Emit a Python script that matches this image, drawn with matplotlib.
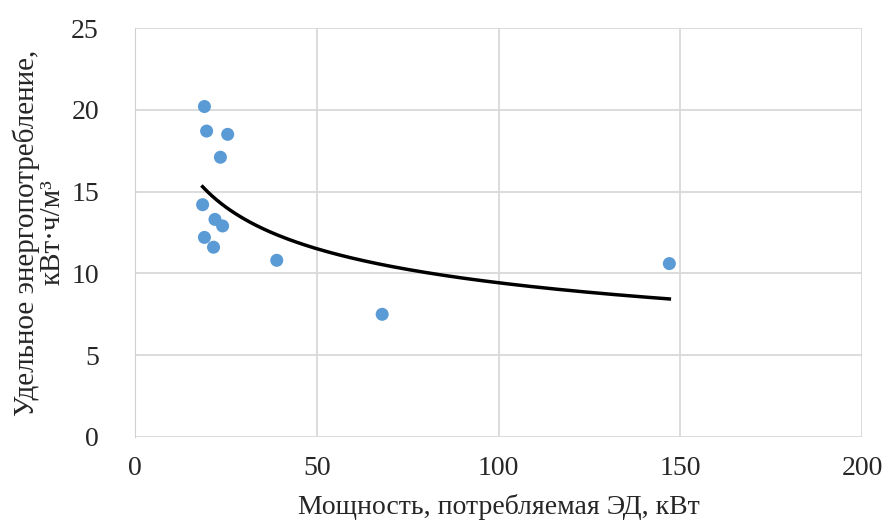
import numpy as np
import matplotlib
matplotlib.use("Agg")
import matplotlib.pyplot as plt

power_kw = [19.1, 19.7, 25.5, 23.5, 18.6, 22.0, 24.1, 19.1, 21.6, 39.0, 68.0, 147.0]
energy = [20.2, 18.7, 18.5, 17.1, 14.2, 13.3, 12.9, 12.2, 11.6, 10.8, 7.5, 10.6]

plt.rcParams['font.family'] = ['Liberation Serif', 'DejaVu Serif']

fig = plt.figure(figsize=(8.92, 5.29), dpi=100)
ax = fig.add_axes([135/892, 1-437/529, 727/892, 409/529])

x = np.array(power_kw)
y = np.array(energy)
b, lna = np.polyfit(np.log(x), np.log(y), 1)
xs = np.linspace(x.min(), x.max(), 200)
ax.plot(xs, np.exp(lna) * xs**b, color='black', lw=2.5, zorder=2)
ax.scatter(x, y, s=88, color='#5b9bd5', zorder=3, edgecolors='none')

ax.set_xlim(0, 200)
ax.set_ylim(0, 25)
ax.set_xticks([0, 50, 100, 150, 200])
ax.set_yticks([0, 5, 10, 15, 20, 25])
ax.grid(True, color='#d9d9d9', lw=1.3)
ax.set_axisbelow(True)
for s in ['top', 'right']:
    ax.spines[s].set_visible(False)
ax.spines['bottom'].set_visible(False)
ax.spines['left'].set_color('#d0d0d0')
ax.tick_params(axis='x', length=0, labelsize=20, colors='#262626', pad=14)
ax.tick_params(axis='y', length=0, labelsize=20, colors='#262626', pad=26)
ax.set_xlabel('Мощность, потребляемая ЭД, кВт', fontsize=20, labelpad=9, color='#262626')
ax.set_ylabel('Удельное энергопотребление,\nкВт·ч/м³', fontsize=21, labelpad=4,
              color='#262626', linespacing=1.0)

fig.savefig('out.png', dpi=100)
